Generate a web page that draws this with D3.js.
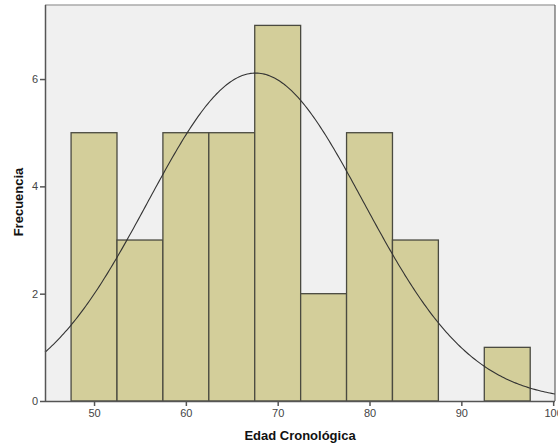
<!DOCTYPE html>
<html lang="es">
<head>
<meta charset="utf-8">
<style>
  body { margin: 0; background: #fff; }
  text { font-family: Arial, "Liberation Sans", sans-serif; }
</style>
</head>
<body>
<div id="viz"></div>
<script src="https://cdn.jsdelivr.net/npm/d3@7/dist/d3.min.js"></script>
<script>
const binStarts = [47.5, 52.5, 57.5, 62.5, 67.5, 72.5, 77.5, 82.5, 87.5, 92.5]
const counts = [5, 3, 5, 5, 7, 2, 5, 3, 0, 1]
const binWidth = 5
const xTicks = [50, 60, 70, 80, 90, 100]
const yTicks = [0, 2, 4, 6]
const curveMean = 67.6
const curveSd = 11.75

const width = 558, height = 445
const plotLeft = 45, plotRight = 555, plotTop = 5, plotBottom = 401

const svg = d3.select('#viz').append('svg').attr('width', width).attr('height', height)

const x = d3.scaleLinear().domain([44.66, 100.2]).range([plotLeft, plotRight])
const y = d3.scaleLinear().domain([0, 7.38]).range([plotBottom, plotTop])

svg.append('rect')
  .attr('x', plotLeft).attr('y', plotTop)
  .attr('width', plotRight - plotLeft).attr('height', plotBottom - plotTop)
  .attr('fill', '#f0f0f0')

svg.selectAll('rect.bar')
  .data(counts.map((c, i) => ({ x0: binStarts[i], c })).filter(d => d.c > 0))
  .enter()
  .append('rect')
    .attr('class', 'bar')
    .attr('x', d => x(d.x0))
    .attr('y', d => y(d.c))
    .attr('width', d => x(d.x0 + binWidth) - x(d.x0))
    .attr('height', d => y(0) - y(d.c))
    .attr('fill', '#d3ce9a')
    .attr('stroke', '#4a4a40')
    .attr('stroke-width', 1.3)

// normal curve scaled to counts
const n = d3.sum(counts)
const pts = d3.range(0, 301).map(i => {
  const v = 44.66 + (100.2 - 44.66) * i / 300
  const z = (v - curveMean) / curveSd
  return [v, n * binWidth / (curveSd * Math.sqrt(2 * Math.PI)) * Math.exp(-z * z / 2)]
})
svg.append('path')
  .attr('d', d3.line().x(d => x(d[0])).y(d => y(d[1]))(pts))
  .attr('fill', 'none')
  .attr('stroke', '#333')
  .attr('stroke-width', 1.1)

// frame
svg.append('line').attr('x1', plotLeft).attr('x2', plotRight).attr('y1', plotTop).attr('y2', plotTop)
  .attr('stroke', '#aaa').attr('stroke-width', 1.5)
svg.append('line').attr('x1', plotRight).attr('x2', plotRight).attr('y1', plotTop).attr('y2', plotBottom)
  .attr('stroke', '#444').attr('stroke-width', 1)

const xAxis = svg.append('g').attr('transform', `translate(0,${plotBottom})`)
  .call(d3.axisBottom(x).tickValues(xTicks).tickSize(5).tickPadding(3))
const yAxis = svg.append('g').attr('transform', `translate(${plotLeft},0)`)
  .call(d3.axisLeft(y).tickValues(yTicks).tickSize(5).tickPadding(2))

;[xAxis, yAxis].forEach(g => {
  g.select('.domain').attr('stroke', '#555').attr('stroke-width', 1.5)
  g.selectAll('.tick line').attr('stroke', '#555').attr('stroke-width', 1.5)
  g.selectAll('.tick text').attr('fill', '#444').style('font-size', '11px')
    .style('font-family', 'Arial, "Liberation Sans", sans-serif')
})
xAxis.select('.domain').attr('d', `M${plotLeft},0.5H${plotRight}`)
yAxis.select('.domain').attr('d', `M0.5,${plotTop}V${plotBottom}`)

svg.append('text')
  .attr('x', 300).attr('y', 440)
  .attr('text-anchor', 'middle')
  .style('font-size', '13px').style('font-weight', 'bold')
  .attr('fill', '#111')
  .text('Edad Cronológica')

svg.append('text')
  .attr('transform', 'translate(23,202) rotate(-90)')
  .attr('text-anchor', 'middle')
  .style('font-size', '13px').style('font-weight', 'bold')
  .attr('fill', '#111')
  .text('Frecuencia')
</script>
</body>
</html>
